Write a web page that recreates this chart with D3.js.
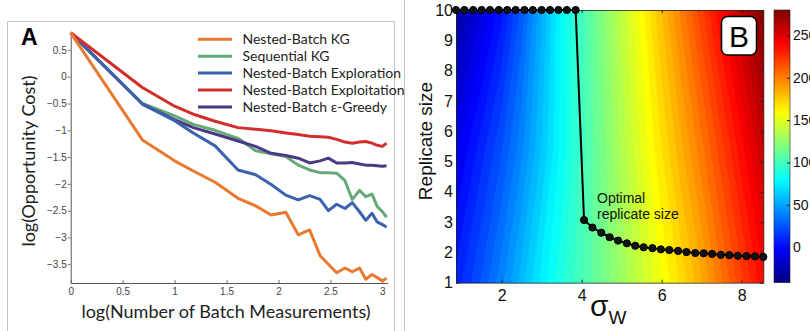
<!DOCTYPE html>
<html><head><meta charset="utf-8">
<script src="https://cdn.jsdelivr.net/npm/d3@7"></script>
<style>body{margin:0;background:#fff;} svg{display:block;}</style>
</head><body>
<script>
// ---------- Panel A data ----------
const logN = [0, 0.69, 1.0, 1.18, 1.39, 1.61, 1.78, 1.93, 2.07, 2.19, 2.30, 2.40, 2.48, 2.56, 2.64, 2.71, 2.78, 2.84, 2.90, 2.95, 3.0, 3.04];
const seriesNames = ["Nested-Batch KG", "Sequential KG", "Nested-Batch Exploration", "Nested-Batch Exploitation", "Nested-Batch ε-Greedy"];
const seriesColors = ["#e8792f", "#66a878", "#3b62ae", "#d22f2c", "#4a3a86"];
const nbKG        = [0.82, -1.18, -1.57, -1.76, -1.97, -2.27, -2.41, -2.58, -2.53, -2.95, -2.86, -3.34, -3.50, -3.66, -3.57, -3.64, -3.57, -3.78, -3.69, -3.75, -3.81, -3.76];
const seqKG       = [0.82, -0.50, -0.73, -0.89, -1.00, -1.15, -1.38, -1.44, -1.49, -1.65, -1.74, -1.79, -1.79, -1.80, -1.94, -2.29, -2.12, -2.24, -2.19, -2.42, -2.52, -2.62];
const nbExplore   = [0.82, -0.51, -0.82, -1.05, -1.29, -1.74, -1.83, -2.01, -2.21, -2.30, -2.22, -2.29, -2.50, -2.38, -2.46, -2.35, -2.52, -2.68, -2.55, -2.71, -2.76, -2.81];
const nbExploit   = [0.82, -0.20, -0.55, -0.70, -0.83, -0.95, -0.98, -1.01, -1.05, -1.08, -1.11, -1.12, -1.13, -1.17, -1.22, -1.24, -1.22, -1.21, -1.24, -1.28, -1.30, -1.24];
const nbEpsGreedy = [0.82, -0.51, -0.80, -0.95, -1.07, -1.20, -1.30, -1.43, -1.47, -1.52, -1.61, -1.57, -1.52, -1.61, -1.61, -1.60, -1.63, -1.65, -1.65, -1.66, -1.67, -1.66];
const xTicksA = [0, 0.5, 1, 1.5, 2, 2.5, 3];
const yTicksA = [0.5, 0, -0.5, -1, -1.5, -2, -2.5, -3, -3.5];

// ---------- Panel B data ----------
const sigmaW = [0.86, 1.07, 1.29, 1.50, 1.71, 1.93, 2.14, 2.35, 2.57, 2.78, 3.00, 3.21, 3.42, 3.63, 3.85, 4.06, 4.27, 4.49, 4.70, 4.91, 5.13, 5.34, 5.55, 5.77, 5.98, 6.19, 6.41, 6.62, 6.84, 7.05, 7.26, 7.48, 7.69, 7.90, 8.12, 8.33, 8.54];
const optReplicate = [10, 10, 10, 10, 10, 10, 10, 10, 10, 10, 10, 10, 10, 10, 10, 3.07, 2.82, 2.65, 2.50, 2.39, 2.30, 2.22, 2.17, 2.14, 2.10, 2.08, 2.05, 2.01, 1.98, 1.97, 1.95, 1.92, 1.91, 1.89, 1.88, 1.87, 1.85];
// heat map grid (cost values)
const hmSigma = [0.86, 1.5, 2, 2.5, 3, 3.5, 4, 4.5, 5, 5.5, 6, 6.5, 7, 7.5, 8, 8.54];
const hmRep = [1, 5.5, 10];
const hmRow1  = [8, 25, 40, 57, 74, 88, 101, 114, 128, 142, 156, 170, 185, 203, 220, 238];
const hmRow55 = [-8, 9, 23, 40, 60, 80, 98, 116, 134, 151, 168, 185, 202, 220, 238, 258];
const hmRow10 = [-32, -12, 4, 26, 53, 79, 99, 119, 139, 159, 180, 200, 220, 240, 260, 280];
const cbRange = [-42, 280];
const cbTicks = [0, 50, 100, 150, 200, 250];
const xTicksB = [2, 4, 6, 8];
const yTicksB = [1, 2, 3, 4, 5, 6, 7, 8, 9, 10];

// ---------- helpers ----------
function jet(v) {
  const t = Math.max(0, Math.min(1, (v - cbRange[0]) / (cbRange[1] - cbRange[0])));
  const c = x => Math.max(0, Math.min(1, x));
  const r = c(1.5 - Math.abs(4 * t - 3)), g = c(1.5 - Math.abs(4 * t - 2)), b = c(1.5 - Math.abs(4 * t - 1));
  return d3.rgb(r * 255, g * 255, b * 255).toString();
}

const W = 810, H = 331;
const svg = d3.select("body").append("svg").attr("width", W).attr("height", H);
svg.append("rect").attr("width", W).attr("height", H).attr("fill", "#fff");

// ================= Panel A =================
const fA = "Lato, 'Open Sans', sans-serif";
svg.append("rect").attr("x", 7.5).attr("y", 21.5).attr("width", 387).attr("height", 330)
  .attr("fill", "none").attr("stroke", "#c4c4c4").attr("stroke-width", 1);

const xA = d3.scaleLinear().domain([0, 3.05]).range([70.7, 387.6]);
const yA = d3.scaleLinear().domain([-3.85, 0.82]).range([283, 32.8]);

const axA = svg.append("g").attr("transform", `translate(0,${yA(-3.85)})`)
  .call(d3.axisBottom(xA).tickValues(xTicksA).tickSize(-3).tickSizeOuter(0).tickPadding(5).tickFormat(d3.format("~g")));
const ayA = svg.append("g").attr("transform", `translate(${xA(0)},0)`)
  .call(d3.axisLeft(yA).tickValues(yTicksA).tickSize(3).tickSizeOuter(0).tickPadding(1).tickFormat(d3.format("~g")));
[axA, ayA].forEach(g => {
  g.selectAll("path.domain").attr("stroke", "#555").attr("stroke-width", 1);
  g.selectAll(".tick line").attr("stroke", "#777");
  g.selectAll(".tick text").attr("fill", "#444").style("font-family", "'Liberation Sans', Arial, sans-serif").style("font-size", "10px");
});

const allSeries = [nbKG, seqKG, nbExplore, nbExploit, nbEpsGreedy];
const lineA = d3.line().x((d, i) => xA(logN[i])).y(d => yA(d));
[1, 4, 2, 3, 0].forEach(k => {
  svg.append("path").datum(allSeries[k]).attr("d", lineA)
    .attr("fill", "none").attr("stroke", seriesColors[k]).attr("stroke-width", 3)
    .attr("stroke-linejoin", "round");
});

// legend
const lg = svg.append("g");
seriesNames.forEach((name, i) => {
  const y = 39.3 + i * 16.9;
  lg.append("line").attr("x1", 198).attr("x2", 232).attr("y1", y).attr("y2", y)
    .attr("stroke", seriesColors[i]).attr("stroke-width", 3);
  lg.append("text").attr("x", 242.5).attr("y", y + 4.8).text(name)
    .style("font-family", fA).style("font-size", "14px").attr("fill", "#222");
});

svg.append("text").attr("x", 21).attr("y", 45).text("A")
  .style("font-family", "'Liberation Sans', Arial, sans-serif").style("font-size", "23px").style("font-weight", "bold");
svg.append("text").attr("transform", "translate(35,161) rotate(-90)").attr("text-anchor", "middle")
  .text("log(Opportunity Cost)").style("font-family", fA).style("font-size", "18px").attr("fill", "#222");
svg.append("text").attr("x", 226).attr("y", 318).attr("text-anchor", "middle")
  .text("log(Number of Batch Measurements)").style("font-family", fA).style("font-size", "18px").attr("fill", "#222");

// ================= Panel B =================
const fB = "'Liberation Sans', Arial, sans-serif";
svg.append("line").attr("x1", 404.5).attr("x2", 404.5).attr("y1", 0).attr("y2", 331)
  .attr("stroke", "#c4c4c4").attr("stroke-width", 1);

const xB = d3.scaleLinear().domain([0.86, 8.54]).range([456, 763.3]);
const yB = d3.scaleLinear().domain([1, 10]).range([282.7, 10]);

svg.append("clipPath").attr("id", "hmclip").append("rect")
  .attr("x", xB(0.86)).attr("y", yB(10)).attr("width", xB(8.54) - xB(0.86)).attr("height", yB(1) - yB(10));

const nx = hmSigma.length, ny = hmRep.length;
const grid = [].concat(hmRow1, hmRow55, hmRow10);
const idxX = d3.scaleLinear().domain(d3.range(nx)).range(hmSigma);
const idxY = d3.scaleLinear().domain(d3.range(ny)).range(hmRep);
const proj = d3.geoTransform({
  point: function (x, y) {
    const ix = Math.max(0, Math.min(nx - 1, x - 0.5));
    const iy = Math.max(0, Math.min(ny - 1, y - 0.5));
    this.stream.point(xB(idxX(ix)), yB(idxY(iy)));
  }
});
const pathB = d3.geoPath(proj);
const step = 6;
const thresholds = d3.range(-48, 290, step);
const contours = d3.contours().size([nx, ny]).thresholds(thresholds)(grid);
const hm = svg.append("g").attr("clip-path", "url(#hmclip)");
hm.append("rect").attr("x", xB(0.86)).attr("y", yB(10)).attr("width", xB(8.54) - xB(0.86)).attr("height", yB(1) - yB(10))
  .attr("fill", jet(-45));
hm.selectAll("path.c").data(contours).join("path").attr("class", "c")
  .attr("d", pathB)
  .attr("fill", d => jet(d.value + step / 2))
  .attr("stroke", d => jet(d.value + step / 2)).attr("stroke-width", 0.6);

// axes B
const axB = svg.append("g").attr("transform", `translate(0,${yB(1)})`)
  .call(d3.axisBottom(xB).tickValues(xTicksB).tickSize(-3).tickSizeOuter(0).tickPadding(7).tickFormat(d3.format("d")));
const axBt = svg.append("g").attr("transform", `translate(0,${yB(10)})`)
  .call(d3.axisTop(xB).tickValues(xTicksB).tickSize(-3).tickSizeOuter(0).tickFormat(""));
const ayB = svg.append("g").attr("transform", `translate(${xB(0.86)},0)`)
  .call(d3.axisLeft(yB).tickValues(yTicksB).tickSize(-3).tickSizeOuter(0).tickPadding(3).tickFormat(d3.format("d")));
const ayBr = svg.append("g").attr("transform", `translate(${xB(8.54)},0)`)
  .call(d3.axisRight(yB).tickValues(yTicksB).tickSize(-3).tickSizeOuter(0).tickFormat(""));
[axB, axBt, ayB, ayBr].forEach(g => {
  g.selectAll("path.domain").attr("stroke", "#222").attr("stroke-width", 0.8);
  g.selectAll(".tick line").attr("stroke", "#222");
  g.selectAll(".tick text").attr("fill", "#111").style("font-family", fB).style("font-size", "16px");
});

// optimal replicate line
const lineB = d3.line().x((d, i) => xB(sigmaW[i])).y(d => yB(d));
svg.append("path").datum(optReplicate).attr("d", lineB).attr("fill", "none")
  .attr("stroke", "#000").attr("stroke-width", 2);
svg.append("g").selectAll("circle").data(optReplicate).join("circle")
  .attr("cx", (d, i) => xB(sigmaW[i])).attr("cy", d => yB(d)).attr("r", 3.6)
  .attr("fill", "#111").attr("stroke", "#000").attr("stroke-width", 1);

svg.append("text").attr("x", 597).attr("y", 202.5).text("Optimal")
  .style("font-family", fB).style("font-size", "14px").attr("fill", "#111");
svg.append("text").attr("x", 597).attr("y", 218.5).text("replicate size")
  .style("font-family", fB).style("font-size", "14px").attr("fill", "#111");

// B label box
svg.append("rect").attr("x", 721.5).attr("y", 16.5).attr("width", 35).attr("height", 38.5).attr("rx", 6)
  .attr("fill", "#fff").attr("stroke", "#000").attr("stroke-width", 1.5);
svg.append("text").attr("x", 739).attr("y", 47).attr("text-anchor", "middle").text("B")
  .style("font-family", fB).style("font-size", "30px").attr("fill", "#000");

// axis titles B
svg.append("text").attr("transform", "translate(432,141) rotate(-90)").attr("text-anchor", "middle")
  .text("Replicate size").style("font-family", fB).style("font-size", "19px").attr("fill", "#111");
const st = svg.append("text").attr("x", 590).attr("y", 316).style("font-family", fB).attr("fill", "#111");
st.append("tspan").text("σ").style("font-size", "30px");
st.append("tspan").text("W").attr("dy", 8).style("font-size", "19px");

// colorbar
const cbX = 774, cbW = 16;
const yCB = d3.scaleLinear().domain(cbRange).range([282.7, 10]);
const defs = svg.append("defs");
const grad = defs.append("linearGradient").attr("id", "jetgrad").attr("x1", 0).attr("y1", 1).attr("x2", 0).attr("y2", 0);
d3.range(0, 1.0001, 0.02).forEach(t => {
  grad.append("stop").attr("offset", t).attr("stop-color", jet(cbRange[0] + t * (cbRange[1] - cbRange[0])));
});
svg.append("rect").attr("x", cbX).attr("y", yCB(cbRange[1])).attr("width", cbW).attr("height", yCB(cbRange[0]) - yCB(cbRange[1]))
  .attr("fill", "url(#jetgrad)").attr("stroke", "#222").attr("stroke-width", 0.6);
const acb = svg.append("g").attr("transform", `translate(${cbX + cbW},0)`)
  .call(d3.axisRight(yCB).tickValues(cbTicks).tickSize(-3).tickSizeOuter(0).tickPadding(3).tickFormat(d3.format("d")));
acb.select("path.domain").remove();
acb.selectAll(".tick line").attr("stroke", "#222");
acb.selectAll(".tick text").attr("fill", "#111").style("font-family", fB).style("font-size", "14px");
</script>
</body></html>
